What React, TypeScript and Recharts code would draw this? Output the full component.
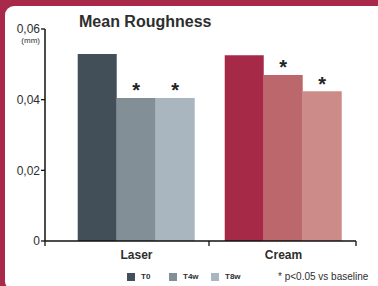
import React from 'react';
import { BarChart, Bar, XAxis, YAxis, Cell, LabelList } from 'recharts';

const categories = ['Laser', 'Cream'];
const seriesNames = ['T0', 'T4w', 'T8w'];
const t0Values = [0.0529, 0.0526];
const t4wValues = [0.0405, 0.047];
const t8wValues = [0.0405, 0.0424];
const t4wSignificant = [true, true];
const t8wSignificant = [true, true];
const yTicks = [0, 0.02, 0.04, 0.06];
const laserColors = ['#434f58', '#838f96', '#a9b6bf'];
const creamColors = ['#a62a48', '#bb676b', '#cc8a89'];
const title = 'Mean Roughness';
const unitLabel = '(mm)';
const noteText = '* p<0.05 vs baseline';

const FONT = '"Liberation Sans", Arial, Helvetica, sans-serif';
const CRIMSON = '#a8294a';
const TEXT = '#2e2e2e';
const LEFT_PAD = 17;

const data = categories.map((c, i) => ({
  name: c,
  T0: t0Values[i],
  T4w: t4wValues[i],
  T8w: t8wValues[i],
}));

const categoryColors = [laserColors, creamColors];

const makeStar = (sig: boolean[]) => (props: any) => {
  const { x, y, width, index } = props;
  if (!sig[index]) return null;
  return (
    <text
      x={Number(x) + Number(width) / 2}
      y={Number(y) - 0.5}
      textAnchor="middle"
      fontSize={20}
      fontWeight="bold"
      fill="#222"
      fontFamily={FONT}
    >
      *
    </text>
  );
};

const XTick = (props: any) => {
  const { x, y, payload, index } = props;
  const half = payload && payload.offset ? payload.offset : 73.5;
  return (
    <g>
      {index === 0 && (
        <line x1={x - half - LEFT_PAD} x2={x - half - LEFT_PAD} y1={y} y2={y + 5} stroke="#111" strokeWidth={1.3} />
      )}
      <line x1={x + half} x2={x + half} y1={y} y2={y + 5} stroke="#111" strokeWidth={1.3} />
      <text x={x + 1} y={y + 18} textAnchor="middle" fontSize={12} fontWeight="bold" fill={TEXT} fontFamily={FONT}>
        {payload.value}
      </text>
    </g>
  );
};

const yFormat = (v: number) => (v === 0 ? '0' : v.toFixed(2).replace('.', ','));

export default function App() {
  return (
    <div style={{ position: 'fixed', left: 0, top: 0, width: 378, height: 286, background: CRIMSON, overflow: 'hidden', fontFamily: FONT }}>
      <div style={{ position: 'absolute', left: 5, top: 6, width: 373, height: 284, background: '#fff', borderRadius: '9px 0 0 9px' }} />
      <div style={{ position: 'absolute', left: 79, top: 13.5, fontSize: 16, lineHeight: '16px', fontWeight: 'bold', color: TEXT, whiteSpace: 'nowrap' }}>
        {title}
      </div>
      <div style={{ position: 'absolute', right: 378 - 40, top: 37, fontSize: 8, lineHeight: '8px', color: TEXT, whiteSpace: 'nowrap' }}>
        {unitLabel}
      </div>
      <div style={{ position: 'absolute', left: 0, top: 0 }}>
        <BarChart
          width={378}
          height={286}
          data={data}
          margin={{ top: 29, right: 22, left: 0, bottom: 0 }}
          barGap={0}
          barCategoryGap="10.7%"
        >
          <YAxis
            width={45}
            domain={[0, 0.06]}
            ticks={yTicks}
            tickFormatter={yFormat}
            tickSize={4}
            tickMargin={1}
            axisLine={{ stroke: '#111', strokeWidth: 1.5 }}
            tickLine={{ stroke: '#111', strokeWidth: 1.3 }}
            tick={{ fontSize: 12, fill: TEXT, fontFamily: FONT }}
            allowDataOverflow
          />
          <XAxis
            dataKey="name"
            height={45}
            padding={{ left: LEFT_PAD, right: 0 }}
            axisLine={{ stroke: '#111', strokeWidth: 1.5 }}
            tickLine={false}
            tickSize={0}
            tickMargin={0}
            tick={<XTick />}
            interval={0}
          />
          {seriesNames.map((s, si) => (
            <Bar key={s} dataKey={s} isAnimationActive={false}>
              {data.map((d, ci) => (
                <Cell key={d.name} fill={categoryColors[ci][si]} />
              ))}
              {si === 1 && <LabelList dataKey={s} content={makeStar(t4wSignificant)} />}
              {si === 2 && <LabelList dataKey={s} content={makeStar(t8wSignificant)} />}
            </Bar>
          ))}
        </BarChart>
      </div>
      {seriesNames.map((s, i) => (
        <div key={s} style={{ position: 'absolute', left: 127 + i * 42, top: 273, display: 'flex', alignItems: 'center', height: 8 }}>
          <div style={{ width: 8, height: 8, background: laserColors[i] }} />
          <span style={{ marginLeft: 6, fontSize: 8, fontWeight: 'bold', color: TEXT, lineHeight: '8px' }}>{s}</span>
        </div>
      ))}
      <div style={{ position: 'absolute', left: 278, top: 271, fontSize: 10, lineHeight: '12px', color: TEXT, whiteSpace: 'nowrap' }}>
        {noteText}
      </div>
    </div>
  );
}
